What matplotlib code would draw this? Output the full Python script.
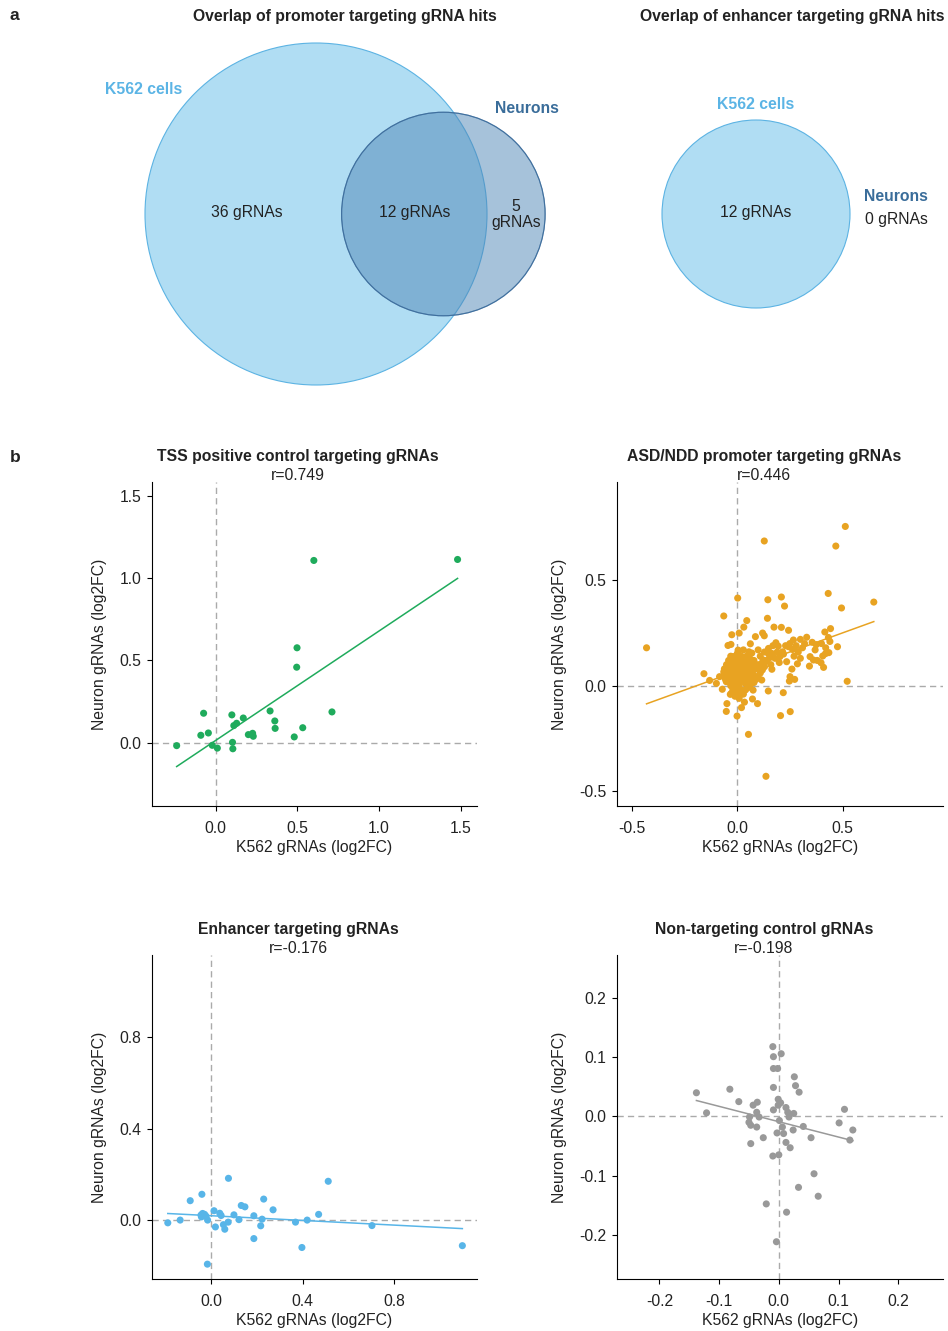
import numpy as np
import matplotlib
matplotlib.use("Agg")
import matplotlib.pyplot as plt
from matplotlib.patches import Circle

plt.rcParams["font.family"] = ["Liberation Sans", "DejaVu Sans"]
plt.rcParams["axes.unicode_minus"] = False

FS = 11.3
TEXT = "#222222"

# ---- panel a: hit overlaps ----
promoter_k562_only = 36
promoter_shared = 12
promoter_neuron_only = 5
enhancer_k562 = 12
enhancer_neuron = 0

K562_FACE = "#b0ddf3"
K562_EDGE = "#5cb3e3"
NEURON_FACE = "#4f86b6"
NEURON_EDGE = "#3f6f9e"
K562_LABEL = "#5bb4e5"
NEURON_LABEL = "#3a6d9a"

# ---- panel b: log2FC per gRNA (K562 x, neuron y) ----
tss_x = [-0.239, -0.091, -0.074, -0.045, -0.021, 0.010, 0.099, 0.103, 0.105,
         0.111, 0.128, 0.169, 0.200, 0.226, 0.230, 0.333, 0.362, 0.364, 0.481,
         0.496, 0.498, 0.533, 0.601, 0.712, 1.481]
tss_y = [-0.018, 0.045, 0.179, 0.059, -0.016, -0.033, 0.169, 0.002, -0.037,
         0.104, 0.118, 0.150, 0.049, 0.057, 0.039, 0.193, 0.132, 0.087, 0.035,
         0.459, 0.577, 0.091, 1.108, 0.187, 1.114]

asd_x = [-0.429, -0.063, 0.003, 0.129, 0.146, 0.210, 0.225, 0.144, 0.046, 0.032,
         -0.025, 0.010, -0.043, -0.029, 0.087, 0.121, 0.129, 0.063, 0.175, 0.210,
         0.244, 0.267, 0.432, 0.468, 0.513, 0.495, 0.648, 0.443, 0.416, 0.433,
         0.476, 0.522, 0.356, 0.375, 0.346, 0.343, 0.362, 0.410, 0.406, 0.435,
         0.419, 0.398, 0.263, 0.286, 0.260, 0.251, 0.273, 0.248, 0.244, 0.235,
         0.216, 0.184, 0.195, 0.203, 0.165, 0.149, 0.156, 0.140, 0.165, 0.148,
         0.219, 0.206, 0.252, 0.054, 0.137, 0.073, 0.097, 0.035, 0.021, 0.000,
         -0.051, -0.048, -0.032, -0.070, -0.157, -0.130, -0.098, -0.083, -0.063, -0.056,
         -0.051, -0.038, -0.019, 0.005, 0.056, 0.076, 0.108, 0.117, 0.124, -0.027,
         -0.060, -0.050, -0.050, -0.040, -0.040, -0.040, -0.030, -0.030, -0.030, -0.030,
         -0.020, -0.020, -0.020, -0.020, -0.010, -0.010, -0.010, -0.010, -0.010, 0.000,
         0.000, 0.000, 0.000, 0.000, 0.010, 0.010, 0.010, 0.010, 0.010, 0.020,
         0.020, 0.020, 0.020, 0.020, 0.030, 0.030, 0.030, 0.030, 0.030, 0.040,
         0.040, 0.040, 0.040, 0.050, 0.050, 0.050, 0.050, 0.060, 0.060, 0.060,
         0.070, 0.070, 0.070, 0.080, 0.080, 0.090, 0.090, 0.100, 0.110, 0.120,
         0.130, -0.055, -0.045, -0.035, -0.025, -0.015, -0.005, 0.005, 0.015, 0.025,
         0.035, 0.045, 0.055, 0.065, 0.075, 0.085, 0.015, 0.035, -0.010, 0.020,
         0.040, 0.060, 0.080, 0.100, 0.120, 0.140, 0.160, 0.180, 0.200, 0.190,
         0.220, 0.170, 0.150, 0.130, 0.110, -0.005, 0.005, 0.025, 0.045, 0.070,
         0.100, 0.290, 0.310, 0.300, 0.320, 0.330, 0.280, 0.270, 0.300, 0.370,
         0.400, 0.420, 0.440, 0.380, 0.250, 0.230]
asd_y = [0.180, 0.331, 0.416, 0.687, 0.408, 0.421, 0.378, 0.320, 0.309, 0.278,
         0.242, 0.250, 0.191, 0.196, 0.233, 0.250, 0.237, 0.199, 0.278, 0.277,
         0.263, 0.217, 0.438, 0.663, 0.756, 0.369, 0.397, 0.271, 0.255, 0.229,
         0.185, 0.021, 0.206, 0.195, 0.138, 0.093, 0.122, 0.087, 0.141, 0.157,
         0.152, 0.109, 0.172, 0.104, 0.079, 0.043, 0.030, 0.022, 0.185, 0.114,
         0.161, 0.204, 0.188, 0.138, 0.153, 0.177, 0.134, 0.116, 0.078, -0.025,
         -0.033, -0.142, -0.123, -0.231, -0.430, -0.063, -0.085, -0.078, -0.104, -0.144,
         -0.122, -0.085, -0.041, -0.017, 0.057, 0.025, 0.011, 0.043, 0.066, 0.043,
         0.019, 0.106, 0.138, 0.169, 0.161, -0.021, 0.074, 0.027, 0.122, -0.036,
         0.080, 0.050, 0.100, 0.020, 0.070, 0.120, 0.000, 0.040, 0.090, 0.140,
         -0.020, 0.030, 0.060, 0.110, 0.010, 0.050, 0.080, 0.130, -0.050, 0.020,
         0.060, 0.100, 0.150, -0.030, 0.000, 0.040, 0.070, 0.120, -0.060, 0.020,
         0.050, 0.090, 0.140, -0.020, 0.030, 0.060, 0.100, -0.040, 0.170, 0.010,
         0.050, 0.080, 0.120, 0.030, 0.070, 0.110, -0.010, 0.040, 0.090, 0.130,
         0.020, 0.060, 0.100, 0.050, 0.120, 0.080, 0.030, 0.100, 0.060, 0.110,
         0.090, 0.030, 0.085, 0.060, 0.015, 0.095, 0.035, 0.085, 0.025, 0.075,
         0.045, 0.095, 0.055, 0.075, 0.035, 0.090, 0.110, 0.125, -0.010, -0.040,
         -0.020, 0.000, 0.015, 0.040, 0.075, 0.120, 0.100, 0.130, 0.110, 0.160,
         0.150, 0.190, 0.150, 0.160, 0.140, 0.140, 0.160, 0.125, 0.140, 0.155,
         0.170, 0.160, 0.180, 0.130, 0.200, 0.230, 0.190, 0.140, 0.220, 0.170,
         0.200, 0.180, 0.210, 0.120, 0.200, 0.190]

enh_x = [-0.189, -0.135, -0.091, -0.040, -0.042, -0.037, -0.028, -0.044, -0.022,
         -0.015, -0.016, 0.013, 0.019, 0.038, 0.044, 0.054, 0.060, 0.075, 0.076,
         0.100, 0.122, 0.132, 0.148, 0.187, 0.187, 0.217, 0.223, 0.230, 0.271,
         0.369, 0.397, 0.420, 0.470, 0.512, 0.703, 1.098]
enh_y = [-0.013, -0.001, 0.084, 0.112, 0.013, 0.028, 0.024, 0.021, 0.016,
         -0.001, -0.194, 0.040, -0.031, 0.029, 0.019, -0.021, -0.041, -0.010, 0.182,
         0.022, 0.001, 0.063, 0.057, 0.018, -0.082, -0.026, 0.003, 0.091, 0.044,
         -0.010, -0.121, -0.001, 0.024, 0.169, -0.025, -0.113]

nt_x = [-0.138, -0.121, -0.082, -0.067, -0.043, -0.036, -0.037, -0.033, -0.049,
        -0.050, -0.047, -0.037, -0.047, -0.026, -0.010, -0.009, 0.004, -0.009,
        -0.002, -0.009, 0.026, 0.028, 0.034, -0.001, 0.003, -0.009, -0.001, 0.012,
        0.015, 0.017, 0.025, 0.001, 0.006, -0.003, 0.008, 0.024, 0.041, 0.012,
        0.019, 0.054, -0.010, 0.000, 0.059, 0.033, 0.066, -0.021, 0.013, -0.004,
        0.101, 0.110, 0.124, 0.119]
nt_y = [0.040, 0.006, 0.046, 0.025, 0.019, 0.024, 0.007, -0.001, -0.001,
        -0.010, -0.015, -0.018, -0.046, -0.036, 0.118, 0.101, 0.106, 0.081,
        0.081, 0.049, 0.067, 0.052, 0.041, 0.029, 0.023, 0.011, 0.019, 0.015,
        0.007, -0.001, 0.005, -0.007, -0.018, -0.028, -0.029, -0.023, -0.017, -0.044,
        -0.053, -0.036, -0.067, -0.065, -0.097, -0.120, -0.135, -0.148, -0.162, -0.212,
        -0.011, 0.012, -0.023, -0.040]

scatter_titles = ["TSS positive control targeting gRNAs",
                  "ASD/NDD promoter targeting gRNAs",
                  "Enhancer targeting gRNAs",
                  "Non-targeting control gRNAs"]
r_values = ["0.749", "0.446", "-0.176", "-0.198"]
scatter_colors = ["#1fab5c", "#e8a322", "#58b5e8", "#999999"]

W, H = 948, 1331
fig = plt.figure(figsize=(W / 100, H / 100), dpi=100)


def px_axes(x0, y0, x1, y1):
    """Axes from a pixel box given as left, top, right, bottom."""
    return fig.add_axes([x0 / W, 1 - y1 / H, (x1 - x0) / W, (y1 - y0) / H])


def lens_area(r1, r2, d):
    if d >= r1 + r2:
        return 0.0
    if d <= abs(r1 - r2):
        return np.pi * min(r1, r2) ** 2
    a1 = r1 ** 2 * np.arccos((d ** 2 + r1 ** 2 - r2 ** 2) / (2 * d * r1))
    a2 = r2 ** 2 * np.arccos((d ** 2 + r2 ** 2 - r1 ** 2) / (2 * d * r2))
    tri = 0.5 * np.sqrt((-d + r1 + r2) * (d + r1 - r2) * (d - r1 + r2) * (d + r1 + r2))
    return a1 + a2 - tri


def centre_distance(r1, r2, target):
    lo, hi = abs(r1 - r2), r1 + r2
    for _ in range(60):
        mid = 0.5 * (lo + hi)
        if lens_area(r1, r2, mid) > target:
            lo = mid
        else:
            hi = mid
    return 0.5 * (lo + hi)


def venn_axes(box, centre, scale):
    x0, y0, x1, y1 = box
    ax = px_axes(x0, y0, x1, y1)
    cx, cy = centre
    ax.set_xlim((x0 - cx) / scale, (x1 - cx) / scale)
    ax.set_ylim(-(y1 - cy) / scale, (cy - y0) / scale)
    ax.axis("off")
    return ax


# promoter overlap: circle area proportional to gRNA count
r_k = np.sqrt(promoter_k562_only + promoter_shared)
r_n = np.sqrt(promoter_shared + promoter_neuron_only)
d = centre_distance(r_k, r_n, np.pi * promoter_shared)
scale_a = 171 / r_k
ax = venn_axes((40, 30, 620, 400), (316, 214), scale_a)
ax.add_patch(Circle((0, 0), r_k, facecolor=K562_FACE, edgecolor=K562_EDGE, lw=0.8))
ax.add_patch(Circle((d, 0), r_n, facecolor=NEURON_FACE, edgecolor=NEURON_EDGE,
                    lw=0.8, alpha=0.5))
ax.add_patch(Circle((d, 0), r_n, facecolor="none", edgecolor=NEURON_EDGE, lw=0.8))
ax.text((-r_k + d - r_n) / 2 + 0.16, 0.05, f"{promoter_k562_only} gRNAs",
        ha="center", va="center", fontsize=FS, color=TEXT)
ax.text((d - r_n + r_k) / 2, 0.05, f"{promoter_shared} gRNAs", ha="center",
        va="center", fontsize=FS, color=TEXT)
ax.text((r_k + d + r_n) / 2, -0.03, f"{promoter_neuron_only}\ngRNAs", ha="center",
        va="center", fontsize=FS, color=TEXT, linespacing=1.1)
ax.text(-r_k * 1.01, r_k * 0.73, "K562 cells", ha="center", va="center",
        fontsize=FS, fontweight="bold", color=K562_LABEL)
ax.text(d + r_n * 0.82, r_n * 1.04, "Neurons", ha="center", va="center",
        fontsize=FS, fontweight="bold", color=NEURON_LABEL)

# enhancer overlap: no shared hits, empty neuron set
r_e = np.sqrt(enhancer_k562)
scale_b = 94 / r_e
ax = venn_axes((640, 30, 948, 400), (756, 214), scale_b)
ax.add_patch(Circle((0, 0), r_e, facecolor=K562_FACE, edgecolor=K562_EDGE, lw=0.8))
ax.text(0, 0.04, f"{enhancer_k562} gRNAs", ha="center", va="center",
        fontsize=FS, color=TEXT)
ax.text(0, r_e * 1.16, "K562 cells", ha="center", va="center",
        fontsize=FS, fontweight="bold", color=K562_LABEL)
ax.text(r_e * 1.49, r_e * 0.19, "Neurons", ha="center", va="center",
        fontsize=FS, fontweight="bold", color=NEURON_LABEL)
ax.text(r_e * 1.49, -r_e * 0.06, f"{enhancer_neuron} gRNAs", ha="center",
        va="center", fontsize=FS, color=TEXT)

fig.text(345 / W, 1 - 16 / H, "Overlap of promoter targeting gRNA hits",
         ha="center", va="center", fontsize=FS, fontweight="bold", color=TEXT)
fig.text(792 / W, 1 - 16 / H, "Overlap of enhancer targeting gRNA hits",
         ha="center", va="center", fontsize=FS, fontweight="bold", color=TEXT)
fig.text(10 / W, 1 - 16 / H, "a", ha="left", va="center", fontsize=12.5,
         fontweight="bold", color=TEXT)
fig.text(10 / W, 1 - 457 / H, "b", ha="left", va="center", fontsize=12.5,
         fontweight="bold", color=TEXT)

# ---- scatter panels ----
boxes = [(152, 482, 477, 806), (617, 482, 943, 806),
         (152, 955, 477, 1279), (617, 955, 943, 1279)]
limits = [((-0.39, 1.60), (-0.385, 1.585)),
          ((-0.569, 0.976), (-0.571, 0.967)),
          ((-0.258, 1.162), (-0.259, 1.160)),
          ((-0.271, 0.275), (-0.275, 0.273))]
ticks = [[0.0, 0.5, 1.0, 1.5], [-0.5, 0.0, 0.5],
         [0.0, 0.4, 0.8], [-0.2, -0.1, 0.0, 0.1, 0.2]]
xs = [tss_x, asd_x, enh_x, nt_x]
ys = [tss_y, asd_y, enh_y, nt_y]

for i in range(4):
    ax = px_axes(*boxes[i])
    x = np.asarray(xs[i])
    y = np.asarray(ys[i])
    c = scatter_colors[i]

    ax.axhline(0, color="#aaaaaa", lw=1.0, dashes=(4.5, 3), zorder=1)
    ax.axvline(0, color="#aaaaaa", lw=1.0, dashes=(4.5, 3), zorder=1)
    ax.scatter(x, y, s=26, color=c, edgecolors="none", zorder=2)

    slope, intercept = np.polyfit(x, y, 1)
    fx = np.array([x.min(), x.max()])
    ax.plot(fx, slope * fx + intercept, color=c, lw=1.1, zorder=3)

    ax.set_xlim(*limits[i][0])
    ax.set_ylim(*limits[i][1])
    ax.set_xticks(ticks[i])
    ax.set_yticks(ticks[i])
    ax.xaxis.set_major_formatter(matplotlib.ticker.FormatStrFormatter("%.1f"))
    ax.yaxis.set_major_formatter(matplotlib.ticker.FormatStrFormatter("%.1f"))
    for side in ("top", "right"):
        ax.spines[side].set_visible(False)
    for side in ("left", "bottom"):
        ax.spines[side].set_linewidth(0.8)
    ax.tick_params(length=3.5, width=0.8, labelsize=FS, colors="black",
                   labelcolor=TEXT)
    ax.tick_params(axis="x", pad=7)
    ax.tick_params(axis="y", pad=4)
    ax.set_xlabel("K562 gRNAs (log2FC)", fontsize=FS, color=TEXT, labelpad=3)
    ax.set_ylabel("Neuron gRNAs (log2FC)", fontsize=FS, color=TEXT, labelpad=9)

    ax.text(0.45, 1.078, scatter_titles[i], transform=ax.transAxes, ha="center",
            va="center", fontsize=FS, fontweight="bold", color=TEXT)
    ax.text(0.45, 1.019, f"r={r_values[i]}", transform=ax.transAxes, ha="center",
            va="center", fontsize=FS, color=TEXT)

fig.savefig("out.png", dpi=100)
